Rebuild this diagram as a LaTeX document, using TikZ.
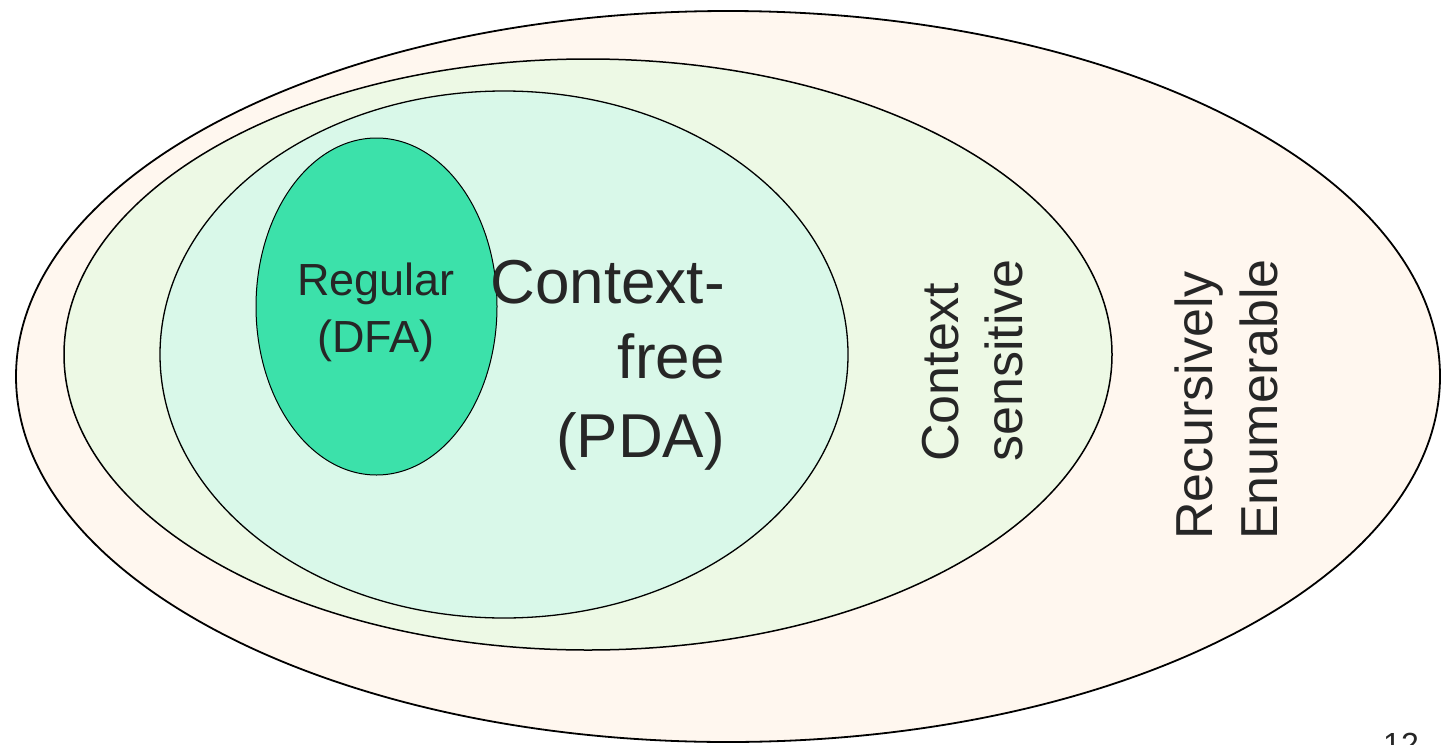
\documentclass[tikz,border=0pt]{standalone}
\usepackage{fontspec}
\setmainfont{Liberation Sans}
\definecolor{reFill}{HTML}{FFF7EF}
\definecolor{csFill}{HTML}{EDF9E5}
\definecolor{cfFill}{HTML}{D9F8E9}
\definecolor{regFill}{HTML}{3CE1AA}
\begin{document}
\begin{tikzpicture}[x=1pt,y=-1pt,
  lbl/.style={inner sep=0pt, text=black!85},
  big/.style={lbl, font=\fontsize{62}{74}\selectfont},
  mid/.style={lbl, font=\fontsize{52}{62}\selectfont},
  small/.style={lbl, font=\fontsize{45}{57}\selectfont},
  upright/.style={rotate=90, anchor=base west}]
\useasboundingbox (0,0) rectangle (1442,744);
\fill[white] (0,0) rectangle (1442,744);

% nested language classes
\draw[line width=1.8pt, fill=reFill]  (728,376.5) ellipse [x radius=712,   y radius=365.5];
\draw[line width=1.5pt, fill=csFill]  (588,354.5) ellipse [x radius=524,   y radius=295.5];
\draw[line width=1.3pt, fill=cfFill]  (504,354.5) ellipse [x radius=344,   y radius=263.5];
\draw[line width=1.0pt, fill=regFill] (376.5,306.5) ellipse [x radius=120.5, y radius=168.5];

% regular
\node[small, anchor=base] (reg1) at (376,295) {Regular};
\node[small, anchor=base] (reg2) at (376,352) {(DFA)};

% context-free
\node[big, anchor=base east] (cf1) at (725,303) {Context-};
\node[big, anchor=base east] (cf2) at (725,378) {free};
\node[big, anchor=base east] (cf3) at (725,457) {(PDA)};

% context sensitive
\node[mid, upright] (cs1) at (958,462) {Context};
\node[mid, upright] (cs2) at (1022,462) {sensitive};

% recursively enumerable
\node[mid, upright] (re1) at (1212,540) {Recursively};
\node[mid, upright] (re2) at (1277,540) {Enumerable};

% page number
\node[lbl, font=\fontsize{32}{38}\selectfont, anchor=base west] (pg) at (1383,755) {12};
\end{tikzpicture}
\end{document}
